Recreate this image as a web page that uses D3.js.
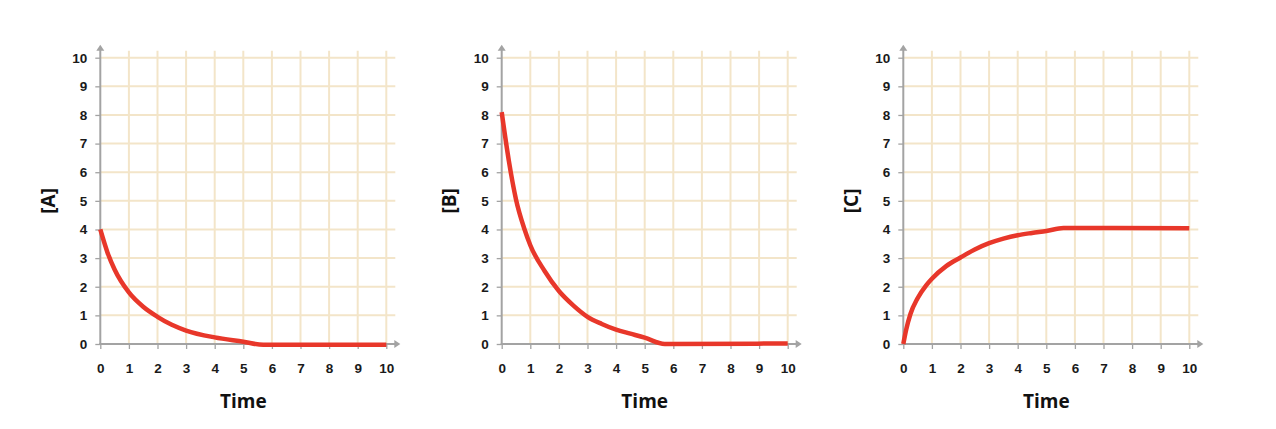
<!DOCTYPE html>
<html>
<head>
<meta charset="utf-8">
<script src="https://cdn.jsdelivr.net/npm/d3@7"></script>
<style>
  html, body { margin: 0; padding: 0; background: #ffffff; }
  svg { display: block; }
</style>
</head>
<body>
<svg id="chart" width="1276" height="429"></svg>
<script>
// ---- data ----
const panelLabels = ["[A]", "[B]", "[C]"];
const axisTitle = "Time";
const tickValues = [0, 1, 2, 3, 4, 5, 6, 7, 8, 9, 10];

const timeA = [0, 0.25, 0.5, 1, 1.5, 2, 2.5, 3, 4, 5, 5.7, 10];
const concA = [4, 3.2, 2.6, 1.8, 1.3, 0.95, 0.67, 0.47, 0.23, 0.08, -0.03, -0.03];

const timeB = [0, 0.25, 0.5, 0.8, 1, 1.5, 2, 2.5, 3, 3.5, 4, 4.5, 5, 5.7, 10];
const concB = [8.1, 6.4, 5.05, 4.0, 3.45, 2.55, 1.85, 1.35, 0.95, 0.7, 0.5, 0.36, 0.22, 0, 0.02];

const timeC = [0, 0.1, 0.25, 0.5, 0.8, 1, 1.5, 2, 2.5, 3, 3.5, 4, 4.5, 5, 5.6, 10];
const concC = [0, 0.5, 1.05, 1.6, 2.05, 2.28, 2.72, 3.02, 3.3, 3.52, 3.68, 3.8, 3.88, 3.95, 4.05, 4.04];

const seriesTimes = [timeA, timeB, timeC];
const seriesConc = [concA, concB, concC];

// ---- layout ----
const svg = d3.select("#chart");
const originsX = [100.3, 501.7, 903.3];
const plotW = 286, y0 = 344, y10 = 57.7;
const gridColor = "#f3e5c9";
const axisColor = "#a3a3a3";
const lineColor = "#e8372a";
const tickFont = "'Liberation Sans', Arial, sans-serif";
const titleFont = "'Open Sans', 'Noto Sans', sans-serif";

panelLabels.forEach((lab, i) => {
  const ox = originsX[i];
  const x = d3.scaleLinear().domain([0, 10]).range([ox, ox + plotW]);
  const y = d3.scaleLinear().domain([0, 10]).range([y0, y10]);
  const g = svg.append("g");

  // grid
  g.selectAll("line.vg").data(tickValues.slice(1)).join("line")
    .attr("x1", d => x(d)).attr("x2", d => x(d))
    .attr("y1", y(10) - 7).attr("y2", y(0))
    .attr("stroke", gridColor).attr("stroke-width", 2);
  g.selectAll("line.hg").data(tickValues.slice(1)).join("line")
    .attr("x1", x(0)).attr("x2", x(10) + 9)
    .attr("y1", d => y(d)).attr("y2", d => y(d))
    .attr("stroke", gridColor).attr("stroke-width", 2);

  // axes
  const xAxis = d3.axisBottom(x).tickValues(tickValues).tickSize(5).tickPadding(14).tickFormat(d3.format("d"));
  const yAxis = d3.axisLeft(y).tickValues(tickValues).tickSize(5).tickPadding(8).tickFormat(d3.format("d"));
  const gx = g.append("g").attr("transform", `translate(0,${y0})`).call(xAxis);
  const gy = g.append("g").attr("transform", `translate(${ox},0)`).call(yAxis);
  [gx, gy].forEach(a => {
    a.select(".domain").remove();
    a.selectAll(".tick line").attr("stroke", axisColor).attr("stroke-width", 1.3);
    a.selectAll(".tick text").attr("fill", "#1a1a1a")
      .style("font-family", tickFont).style("font-weight", "bold").style("font-size", "13.5px");
  });

  // axis lines with arrows
  g.append("line").attr("x1", ox).attr("x2", ox).attr("y1", y0 + 1).attr("y2", y(10) - 9)
    .attr("stroke", axisColor).attr("stroke-width", 2);
  g.append("path")
    .attr("d", `M${ox - 4},${y(10) - 7} L${ox},${y(10) - 13} L${ox + 4},${y(10) - 7} Z`)
    .attr("fill", axisColor);
  g.append("line").attr("x1", ox - 1).attr("x2", x(10) + 10).attr("y1", y0).attr("y2", y0)
    .attr("stroke", axisColor).attr("stroke-width", 2);
  g.append("path")
    .attr("d", `M${x(10) + 8},${y0 - 4} L${x(10) + 14},${y0} L${x(10) + 8},${y0 + 4} Z`)
    .attr("fill", axisColor);

  // curve
  const pts = seriesTimes[i].map((t, k) => [t, seriesConc[i][k]]);
  const line = d3.line().x(d => x(d[0])).y(d => y(d[1])).curve(d3.curveMonotoneX);
  g.append("path").datum(pts).attr("d", line)
    .attr("fill", "none").attr("stroke", lineColor).attr("stroke-width", 4.5)
    .attr("stroke-linejoin", "round");

  // titles
  g.append("text").attr("x", x(5)).attr("y", 408).attr("text-anchor", "middle")
    .style("font-family", titleFont).style("font-weight", "bold").style("font-size", "19px")
    .attr("fill", "#111").text(axisTitle);
  g.append("text").attr("transform", `translate(${ox - 52},${(y0 + y10) / 2}) rotate(-90)`)
    .attr("text-anchor", "middle").attr("dy", "0.35em")
    .style("font-family", titleFont).style("font-weight", "bold").style("font-size", "19px")
    .attr("fill", "#111").text(lab);
});
</script>
</body>
</html>
